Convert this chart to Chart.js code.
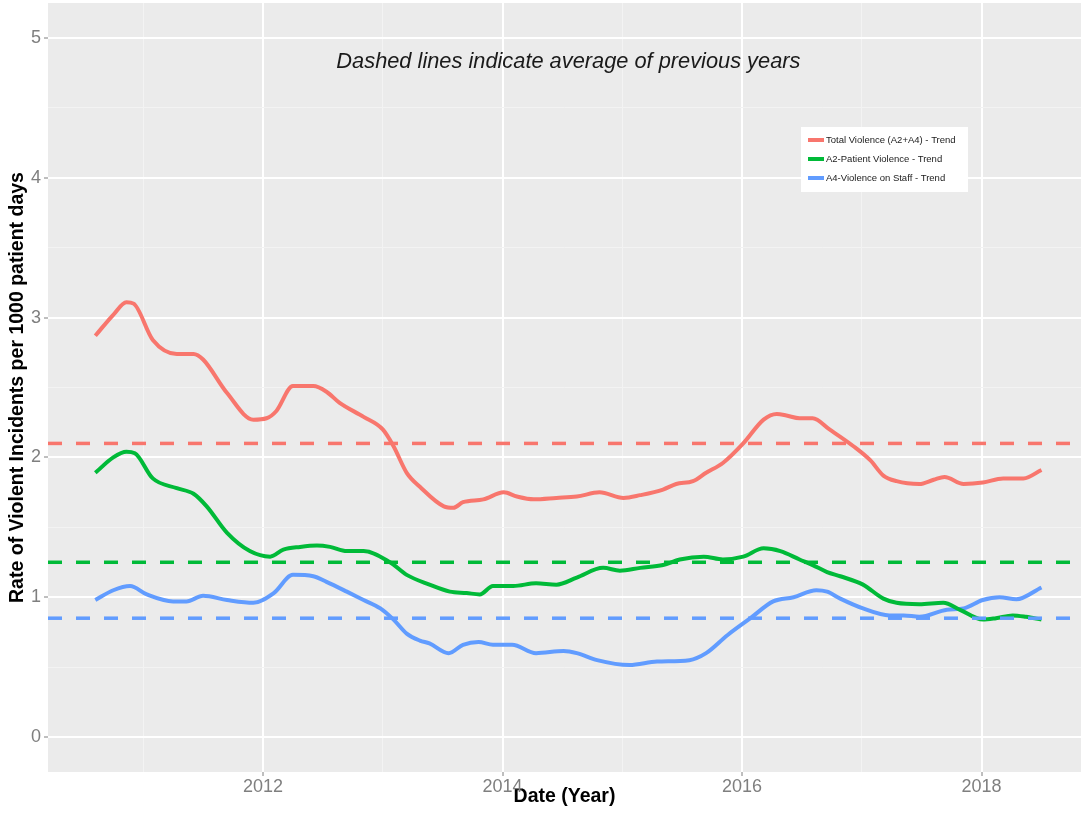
<!DOCTYPE html>
<html>
<head>
<meta charset="utf-8">
<title>Violent incidents trend</title>
<script src="https://cdn.jsdelivr.net/npm/chart.js@4"></script>
<style>
  html, body { margin: 0; padding: 0; background: #fff; }
  #chart-violence { display: block; }
</style>
</head>
<body>
<canvas id="chart-violence" width="1081" height="815"></canvas>
<script>
// Trend data
let totalYears = [2010.60, 2010.75, 2010.86, 2010.92, 2011.08, 2011.28, 2011.42, 2011.50, 2011.70, 2011.92,
  2012.03, 2012.11, 2012.25, 2012.42, 2012.53, 2012.64, 2012.84, 2013.00, 2013.09, 2013.20,
  2013.31, 2013.51, 2013.59, 2013.67, 2013.84, 2014.01, 2014.12, 2014.26, 2014.45, 2014.62,
  2014.81, 2015.01, 2015.15, 2015.34, 2015.45, 2015.59, 2015.70, 2015.84, 2016.01, 2016.18,
  2016.29, 2016.37, 2016.48, 2016.59, 2016.73, 2016.93, 2017.07, 2017.18, 2017.29, 2017.48,
  2017.60, 2017.69, 2017.85, 2018.01, 2018.18, 2018.35, 2018.50];
let totalRate = [2.87, 3.02, 3.11, 3.10, 2.84, 2.74, 2.74, 2.70, 2.46, 2.27,
  2.28, 2.33, 2.51, 2.51, 2.47, 2.39, 2.29, 2.20, 2.08, 1.89,
  1.79, 1.65, 1.64, 1.68, 1.70, 1.75, 1.72, 1.70, 1.71, 1.72,
  1.75, 1.71, 1.73, 1.77, 1.81, 1.83, 1.89, 1.96, 2.10, 2.27,
  2.31, 2.30, 2.28, 2.28, 2.20, 2.08, 1.98, 1.87, 1.83, 1.81,
  1.84, 1.86, 1.81, 1.82, 1.85, 1.85, 1.91];

let patientYears = [2010.60, 2010.75, 2010.86, 2010.93, 2011.08, 2011.28, 2011.42, 2011.53, 2011.70, 2011.89,
  2012.06, 2012.17, 2012.31, 2012.45, 2012.56, 2012.70, 2012.84, 2013.06, 2013.20, 2013.39,
  2013.56, 2013.70, 2013.81, 2013.92, 2014.09, 2014.28, 2014.45, 2014.62, 2014.84, 2014.98,
  2015.15, 2015.34, 2015.48, 2015.68, 2015.84, 2016.01, 2016.18, 2016.32, 2016.48, 2016.59,
  2016.71, 2016.82, 2017.01, 2017.18, 2017.29, 2017.48, 2017.68, 2017.82, 2018.01, 2018.12,
  2018.26, 2018.37, 2018.50];
let patientRate = [1.89, 2.00, 2.04, 2.03, 1.85, 1.78, 1.74, 1.65, 1.46, 1.33,
  1.29, 1.34, 1.36, 1.37, 1.36, 1.33, 1.33, 1.25, 1.16, 1.09,
  1.04, 1.03, 1.02, 1.08, 1.08, 1.10, 1.09, 1.14, 1.21, 1.19,
  1.21, 1.23, 1.27, 1.29, 1.27, 1.29, 1.35, 1.33, 1.27, 1.23,
  1.18, 1.15, 1.09, 0.99, 0.96, 0.95, 0.96, 0.91, 0.84, 0.85,
  0.87, 0.86, 0.84];

let staffYears = [2010.60, 2010.75, 2010.89, 2011.03, 2011.25, 2011.36, 2011.50, 2011.70, 2011.92, 2012.09,
  2012.25, 2012.42, 2012.53, 2012.70, 2012.84, 2012.98, 2013.09, 2013.20, 2013.31, 2013.39,
  2013.55, 2013.67, 2013.80, 2013.92, 2014.08, 2014.28, 2014.51, 2014.62, 2014.79, 2015.06,
  2015.29, 2015.56, 2015.70, 2015.88, 2016.07, 2016.26, 2016.43, 2016.62, 2016.71, 2016.82,
  2017.01, 2017.23, 2017.35, 2017.48, 2017.71, 2017.85, 2018.01, 2018.15, 2018.29, 2018.50];
let staffRate = [0.98, 1.05, 1.08, 1.02, 0.97, 0.97, 1.01, 0.98, 0.96, 1.03,
  1.16, 1.15, 1.11, 1.04, 0.98, 0.92, 0.84, 0.74, 0.69, 0.67,
  0.60, 0.66, 0.68, 0.66, 0.66, 0.60, 0.615, 0.60, 0.55, 0.515,
  0.54, 0.55, 0.60, 0.73, 0.85, 0.97, 1.00, 1.05, 1.04, 0.99,
  0.92, 0.87, 0.87, 0.86, 0.91, 0.92, 0.98, 1.00, 0.985, 1.07];

// Averages of previous years (dashed)
let seriesNames = ['Total Violence (A2+A4) - Trend', 'A2-Patient Violence - Trend', 'A4-Violence on Staff - Trend'];
let seriesColors = ['#F8766D', '#00BA38', '#619CFF'];
let averages = [2.10, 1.25, 0.85];

// Axes
let xMin = 2010.205, xMax = 2018.83;
let yMin = -0.25, yMax = 5.25;
let xMajor = [2012, 2014, 2016, 2018];
let xMinor = [2011, 2013, 2015, 2017];
let yMajor = [0, 1, 2, 3, 4, 5];
let yMinor = [0.5, 1.5, 2.5, 3.5, 4.5];

let noteText = 'Dashed lines indicate average of previous years';
let noteAt = { x: 2014.55, y: 4.83 };

const FONT = '"Liberation Sans", Arial, sans-serif';

let toPoints = (xs, ys) => xs.map((x, i) => ({ x: x, y: ys[i] }));

let trends = [
  toPoints(totalYears, totalRate),
  toPoints(patientYears, patientRate),
  toPoints(staffYears, staffRate)
];

let datasets = [];
// dashed average lines, across the whole panel
averages.forEach((avg, i) => {
  datasets.push({
    label: 'avg ' + seriesNames[i],
    data: [{ x: xMin, y: avg }, { x: xMax, y: avg }],
    borderColor: seriesColors[i],
    borderWidth: 3.5,
    borderDash: [14, 14],
    pointRadius: 0,
    tension: 0
  });
});
trends.forEach((pts, i) => {
  datasets.push({
    label: seriesNames[i],
    data: pts,
    borderColor: seriesColors[i],
    borderWidth: 4,
    pointRadius: 0,
    cubicInterpolationMode: 'monotone'
  });
});

// grey panel behind the plot
let panelBg = {
  id: 'panelBg',
  beforeDraw(chart) {
    let c = chart.ctx, a = chart.chartArea;
    c.save();
    c.fillStyle = '#ffffff';
    c.fillRect(0, 0, chart.width, chart.height);
    c.fillStyle = '#EBEBEB';
    c.fillRect(a.left, a.top, a.right - a.left, a.bottom - a.top);
    c.restore();
  }
};

// note + legend inside the panel
let overlay = {
  id: 'overlay',
  afterDraw(chart) {
    let c = chart.ctx;
    let xs = chart.scales.x, ys = chart.scales.y;
    c.save();
    c.font = 'italic 21.8px ' + FONT;
    c.fillStyle = '#1a1a1a';
    c.textAlign = 'center';
    c.textBaseline = 'middle';
    c.fillText(noteText, xs.getPixelForValue(noteAt.x), ys.getPixelForValue(noteAt.y));

    // legend box
    let lx = 801, ly = 127, lw = 167, lh = 65;
    c.fillStyle = '#ffffff';
    c.fillRect(lx, ly, lw, lh);
    c.font = '9.5px ' + FONT;
    c.textAlign = 'left';
    seriesNames.forEach((name, i) => {
      let rowY = ly + 13 + i * 19;
      c.strokeStyle = seriesColors[i];
      c.lineWidth = 4;
      c.beginPath();
      c.moveTo(lx + 7, rowY);
      c.lineTo(lx + 23, rowY);
      c.stroke();
      c.fillStyle = '#1a1a1a';
      c.fillText(name, lx + 25, rowY);
    });
    c.restore();
  }
};

let isIn = (list, v) => list.some(m => Math.abs(m - v) < 1e-6);

// keep tick labels from pushing the panel edges in
let noLabelPadding = (s) => {
  s.paddingTop = 0; s.paddingBottom = 0;
  s.paddingLeft = 0; s.paddingRight = 0;
};

let ctx = document.getElementById('chart-violence').getContext('2d');
let chart = new Chart(ctx, {
  type: 'line',
  data: { datasets: datasets },
  options: {
    responsive: false,
    animation: false,
    layout: { padding: { top: 3, right: 0, bottom: 0, left: 0 } },
    plugins: {
      legend: { display: false },
      tooltip: { enabled: false }
    },
    scales: {
      x: {
        type: 'linear',
        min: xMin,
        max: xMax,
        afterBuildTicks: (s) => { s.ticks = xMinor.concat(xMajor).sort().map(v => ({ value: v })); },
        afterFit: (s) => { s.height = 43; noLabelPadding(s); },
        border: { display: false },
        grid: {
          color: (c) => isIn(xMajor, c.tick.value) ? '#ffffff' : '#F3F3F3',
          lineWidth: (c) => isIn(xMajor, c.tick.value) ? 2 : 1,
          tickColor: (c) => isIn(xMajor, c.tick.value) ? '#7f7f7f' : 'rgba(0,0,0,0)',
          tickLength: 4,
          tickWidth: 1
        },
        ticks: {
          autoSkip: false,
          maxRotation: 0,
          padding: 0,
          color: '#7f7f7f',
          font: { family: FONT, size: 18 },
          callback: (v) => isIn(xMajor, v) ? String(v) : ''
        },
        title: {
          display: true,
          text: 'Date (Year)',
          color: '#000000',
          font: { family: FONT, size: 19.5, weight: 'bold' },
          padding: { top: 0, bottom: 7 }
        }
      },
      y: {
        type: 'linear',
        min: yMin,
        max: yMax,
        afterBuildTicks: (s) => { s.ticks = yMajor.concat(yMinor).sort((a, b) => a - b).map(v => ({ value: v })); },
        afterFit: (s) => { s.width = 48; noLabelPadding(s); },
        border: { display: false },
        grid: {
          color: (c) => isIn(yMajor, c.tick.value) ? '#ffffff' : '#F3F3F3',
          lineWidth: (c) => isIn(yMajor, c.tick.value) ? 2 : 1,
          tickColor: (c) => isIn(yMajor, c.tick.value) ? '#7f7f7f' : 'rgba(0,0,0,0)',
          tickLength: 4,
          tickWidth: 1
        },
        ticks: {
          autoSkip: false,
          padding: 3,
          color: '#7f7f7f',
          font: { family: FONT, size: 18 },
          callback: (v) => isIn(yMajor, v) ? String(v) : ''
        },
        title: {
          display: true,
          text: 'Rate of Violent Incidents per 1000 patient days',
          color: '#000000',
          font: { family: FONT, size: 19.5, weight: 'bold' },
          padding: { top: 6, bottom: 0 }
        }
      }
    }
  },
  plugins: [panelBg, overlay]
});
</script>
</body>
</html>
